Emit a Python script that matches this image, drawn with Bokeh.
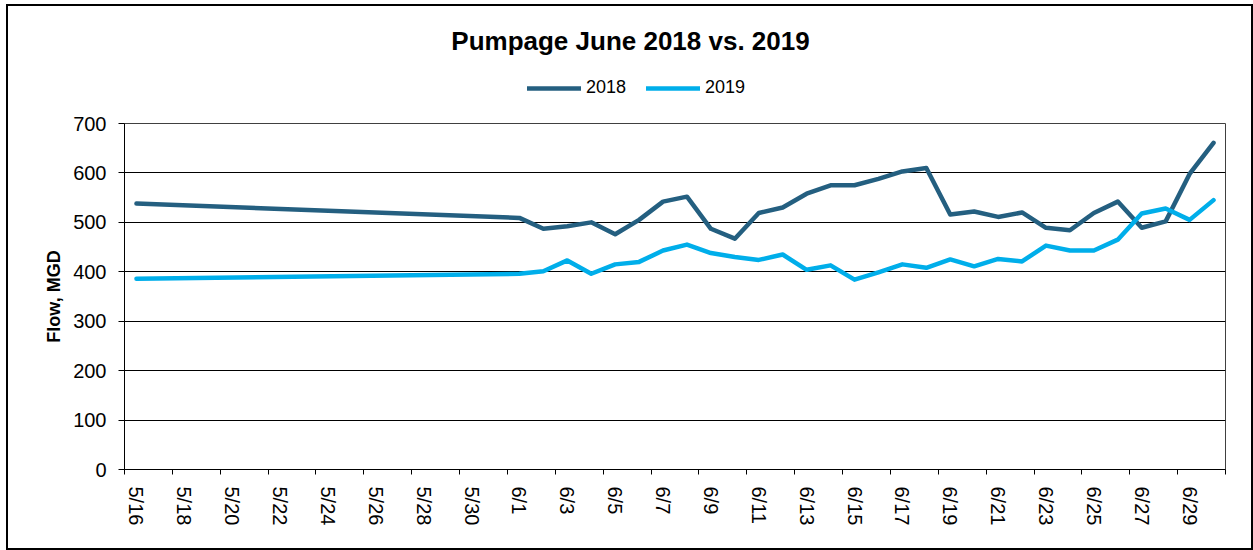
import datetime as dt
from bokeh.plotting import figure
from bokeh.layouts import column
from bokeh.models import (ColumnDataSource, FixedTicker, Legend, LegendItem,
                          Label, Range1d)
from bokeh.embed import file_html
from bokeh.resources import INLINE

# ---------------- data ----------------
dates = ["5/16", "6/1", "6/2", "6/3", "6/4", "6/5", "6/6", "6/7", "6/8", "6/9",
         "6/10", "6/11", "6/12", "6/13", "6/14", "6/15", "6/16", "6/17", "6/18",
         "6/19", "6/20", "6/21", "6/22", "6/23", "6/24", "6/25", "6/26", "6/27",
         "6/28", "6/29", "6/30"]
flow_2018 = [538, 509, 487, 492, 500, 476, 505, 542, 552, 487, 467, 519, 530,
             558, 575, 575, 588, 603, 610, 516, 522, 511, 520, 489, 484, 519,
             542, 489, 502, 598, 661]
flow_2019 = [386, 396, 401, 423, 396, 415, 420, 443, 455, 438, 430, 424, 435,
             404, 413, 384, 399, 415, 408, 425, 411, 426, 421, 453, 443, 443,
             465, 518, 528, 505, 545]
x_tick_labels = ["5/16", "5/18", "5/20", "5/22", "5/24", "5/26", "5/28", "5/30",
                 "6/1", "6/3", "6/5", "6/7", "6/9", "6/11", "6/13", "6/15",
                 "6/17", "6/19", "6/21", "6/23", "6/25", "6/27", "6/29"]
y_ticks = [0, 100, 200, 300, 400, 500, 600, 700]
first_day = "5/16"
last_day = "6/30"
series_names = ["2018", "2019"]
chart_title = "Pumpage June 2018 vs. 2019"
y_label = "Flow, MGD"


def day_index(s):
    m, d = map(int, s.split("/"))
    m0, d0 = map(int, first_day.split("/"))
    return (dt.date(2019, m, d) - dt.date(2019, m0, d0)).days


x = [day_index(s) for s in dates]
src = ColumnDataSource(dict(x=x, y18=flow_2018, y19=flow_2019))

C18 = "#245F80"
C19 = "#00AEEA"
FONT = "Liberation Sans"
LW = 4.5
W = 1243

# ---------------- header (title + legend) ----------------
hdr = figure(width=W, height=105, output_backend="svg", toolbar_location=None,
             x_range=Range1d(0, 1), y_range=Range1d(0, 1),
             x_axis_type=None, y_axis_type=None,
             min_border_left=0, min_border_right=0, min_border_top=0,
             min_border_bottom=0)
hdr.outline_line_color = None
hdr.xgrid.visible = False
hdr.ygrid.visible = False
hdr.background_fill_color = "white"
hdr.border_fill_color = "white"
# legend proxies: same series, drawn far outside this header's ranges
h18 = hdr.line("x", "y18", source=src, line_width=LW, color=C18,
               line_cap="round")
h19 = hdr.line("x", "y19", source=src, line_width=LW, color=C19,
               line_cap="round")
hdr.add_layout(Label(x=506, y=71, x_units="screen", y_units="screen",
                     text=chart_title, text_align="center",
                     text_baseline="alphabetic", text_font=FONT,
                     text_font_size="26px", text_font_style="bold",
                     text_color="black"))
legend = Legend(items=[LegendItem(label=series_names[0], renderers=[h18]),
                       LegendItem(label=series_names[1], renderers=[h19])],
                orientation="horizontal", location=(403, 13), padding=0,
                margin=0, spacing=20, glyph_width=54, glyph_height=20,
                label_standoff=5, label_text_font=FONT,
                label_text_font_size="18px", label_text_color="black",
                border_line_color=None, background_fill_alpha=0)
hdr.add_layout(legend, "center")

# ---------------- main chart ----------------
n_days = day_index(last_day)
p = figure(width=W, height=437, output_backend="svg", toolbar_location=None,
           x_range=Range1d(-0.5, n_days + 0.5), y_range=Range1d(0, 700),
           min_border_left=116, min_border_right=26, min_border_top=12,
           min_border_bottom=79)
p.background_fill_color = "white"
p.border_fill_color = "white"
p.outline_line_color = "#404040"
p.outline_line_width = 1

p.line("x", "y18", source=src, line_width=LW, color=C18,
       line_cap="round", line_join="round")
p.line("x", "y19", source=src, line_width=LW, color=C19,
       line_cap="round", line_join="round")

# x axis
tick_pos = [day_index(s) for s in x_tick_labels]
minor = [-0.5 + 2 * k for k in range(n_days // 2 + 2) if -0.5 + 2 * k <= n_days + 0.5]
p.xaxis.ticker = FixedTicker(ticks=tick_pos, minor_ticks=minor)
p.xaxis.major_label_overrides = {t: lab for t, lab in zip(tick_pos, x_tick_labels)}
p.xaxis.major_label_orientation = "vertical"
p.xaxis.major_tick_out = 0
p.xaxis.major_tick_in = 0
p.xaxis.minor_tick_out = 5
p.xaxis.minor_tick_in = 0
p.xaxis.minor_tick_line_color = "black"
p.xaxis.major_label_standoff = 12
p.xaxis.major_label_text_font = FONT
p.xaxis.major_label_text_font_size = "20px"
p.xaxis.major_label_text_color = "black"
p.xaxis.axis_line_color = "black"
p.xgrid.visible = False

# y axis
p.yaxis.ticker = FixedTicker(ticks=y_ticks, minor_ticks=[])
p.yaxis.major_tick_out = 6
p.yaxis.major_tick_in = 0
p.yaxis.major_tick_line_color = "black"
p.yaxis.major_label_standoff = 12
p.yaxis.major_label_text_font = FONT
p.yaxis.major_label_text_font_size = "20px"
p.yaxis.major_label_text_color = "black"
p.yaxis.axis_line_color = "black"
p.yaxis.axis_label = y_label
p.yaxis.axis_label_text_font = FONT
p.yaxis.axis_label_text_font_size = "18px"
p.yaxis.axis_label_text_font_style = "bold"
p.yaxis.axis_label_text_color = "black"
p.yaxis.axis_label_standoff = 6
p.ygrid.ticker = FixedTicker(ticks=y_ticks)
p.ygrid.grid_line_color = "black"
p.ygrid.grid_line_width = 1

layout = column(hdr, p, spacing=0,
                styles={"margin": "6px 0 0 8px", "outline": "2px solid black"})

open("out.html", "w").write(file_html(layout, INLINE))
